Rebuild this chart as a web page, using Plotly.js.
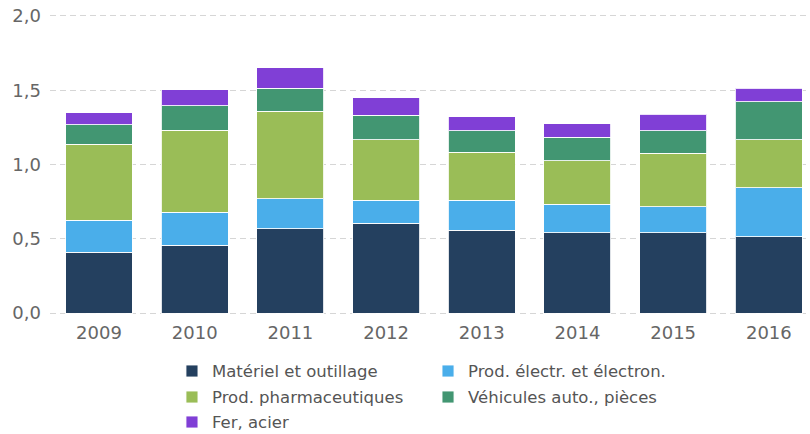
<!DOCTYPE html>
<html>
<head>
<meta charset="utf-8">
<script src="https://cdn.plot.ly/plotly-3.0.1.min.js"></script>
<style>
  html, body { margin: 0; padding: 0; background: #fff; overflow: hidden; }
  #chart { width: 810px; height: 450px; }
</style>
</head>
<body>
<div id="chart"></div>
<script>
const years = ['2009', '2010', '2011', '2012', '2013', '2014', '2015', '2016'];

const seriesNames = [
  'Matériel et outillage',
  'Prod. électr. et électron.',
  'Prod. pharmaceutiques',
  'Véhicules auto., pièces',
  'Fer, acier'
];

const materiel      = [0.410, 0.458, 0.568, 0.604, 0.559, 0.539, 0.539, 0.514];
const electronique  = [0.214, 0.222, 0.202, 0.157, 0.202, 0.195, 0.177, 0.330];
const pharma        = [0.514, 0.550, 0.588, 0.404, 0.321, 0.292, 0.359, 0.321];
const vehicules     = [0.128, 0.167, 0.157, 0.166, 0.146, 0.157, 0.153, 0.256];
const ferAcier      = [0.081, 0.107, 0.137, 0.119, 0.092, 0.092, 0.110, 0.092];

const yTicks = [0, 0.5, 1.0, 1.5, 2.0];

const seriesValues = [materiel, electronique, pharma, vehicules, ferAcier];
const colors = ['#24405F', '#4AAEEA', '#9ABD57', '#429672', '#803FD6'];

// legend slot for each series (two-column legend under the chart)
const legendIds = ['legend', 'legend2', 'legend3', 'legend4', 'legend5'];
const legendX = [0.1605, 0.4974, 0.1605, 0.4974, 0.1605];
const legendY = [-0.1247, -0.1247, -0.2105, -0.2105, -0.2930];

const traces = seriesValues.map((vals, i) => ({
  type: 'bar',
  name: seriesNames[i],
  x: years,
  y: vals,
  width: 0.7,
  legend: legendIds[i],
  marker: { color: colors[i], line: { color: 'rgba(255,255,255,0.85)', width: 1 } },
  hoverinfo: 'name+y'
}));

const layout = {
  width: 810,
  height: 450,
  barmode: 'stack',
  separators: ', ',
  paper_bgcolor: '#ffffff',
  plot_bgcolor: '#ffffff',
  margin: { l: 50, r: 0, t: 13, b: 134 },
  font: { family: 'DejaVu Sans, sans-serif', color: '#666666' },
  xaxis: {
    type: 'category',
    range: [-0.512, 7.43],
    showgrid: false,
    showline: false,
    zeroline: false,
    ticks: '',
    ticklabelstandoff: 4,
    tickfont: { size: 18, color: '#666666' },
    fixedrange: true
  },
  yaxis: {
    range: [-0.02, 2.02],
    tickvals: yTicks,
    tickformat: '.1f',
    showgrid: true,
    gridcolor: '#d6d6d6',
    gridwidth: 1,
    griddash: '6px,4px',
    zeroline: false,
    showline: false,
    ticks: '',
    ticklabelstandoff: 8,
    tickfont: { size: 18, color: '#666666' },
    fixedrange: true
  },
  showlegend: true
};

legendIds.forEach((id, i) => {
  layout[id] = {
    orientation: 'v',
    x: legendX[i],
    xanchor: 'left',
    y: legendY[i],
    yanchor: 'top',
    font: { size: 16.5, color: '#555555' },
    bgcolor: 'rgba(0,0,0,0)'
  };
});

Plotly.newPlot('chart', traces, layout, { displayModeBar: false, staticPlot: true });
</script>
</body>
</html>
